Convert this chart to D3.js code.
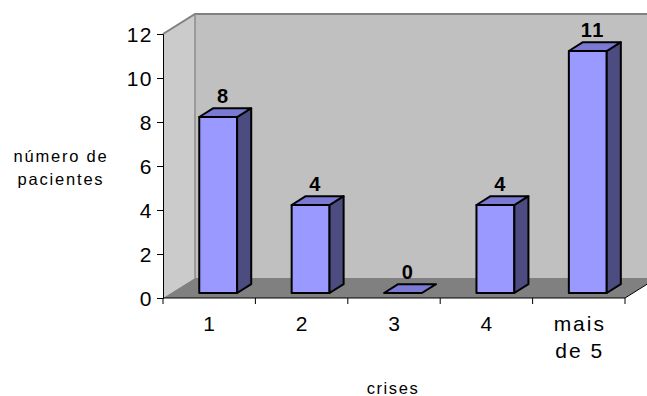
<!DOCTYPE html>
<html>
<head>
<meta charset="utf-8">
<script src="https://cdn.jsdelivr.net/npm/d3@7"></script>
<style>
  html, body { margin: 0; padding: 0; background: #fff; }
  svg { display: block; font-family: "Liberation Sans", Arial, sans-serif; }
</style>
</head>
<body>
<svg id="chart" width="647" height="396"></svg>
<script>
// ---- data ----
const categories = ["1", "2", "3", "4", "mais de 5"];
const categoryLines = [["1"], ["2"], ["3"], ["4"], ["mais", "de 5"]];
const values = [8, 4, 0, 4, 11];
const yTicks = [0, 2, 4, 6, 8, 10, 12];
const yTitleLines = ["número de", "pacientes"];
const xTitle = "crises";

// ---- layout ----
const svg = d3.select("#chart");
const x = d3.scaleBand().domain(categories).range([163, 625]).padding(0);
const y = d3.scaleLinear().domain([0, 12]).range([298, 34]);
const D = { x: 32, y: -20 };          // full floor depth
const f0 = 0.25, f1 = 0.69;           // bar depth placement
const barW = x.bandwidth() * 0.41;
const x0 = x.range()[0], x1 = x.range()[1];
const yTop = y(12), yBot = y(0);

const pts = a => a.map(p => p.join(",")).join(" ");

// side wall
svg.append("polygon")
  .attr("points", pts([[x0, yTop], [x0 + D.x, yTop + D.y], [x0 + D.x, yBot + D.y], [x0, yBot]]))
  .attr("fill", "#cbcbcb");
// back wall
svg.append("polygon")
  .attr("points", pts([[x0 + D.x, yTop + D.y], [x1 + D.x, yTop + D.y], [x1 + D.x, yBot + D.y], [x0 + D.x, yBot + D.y]]))
  .attr("fill", "#c0c0c0");
// floor
svg.append("polygon")
  .attr("points", pts([[x0, yBot], [x0 + D.x, yBot + D.y], [x1 + D.x, yBot + D.y], [x1, yBot]]))
  .attr("fill", "#808080");
// wall edges
svg.append("polyline")
  .attr("points", pts([[x0, yTop], [x0 + D.x, yTop + D.y], [x1 + D.x, yTop + D.y]]))
  .attr("fill", "none").attr("stroke", "#808080").attr("stroke-width", 2);
svg.append("line")
  .attr("x1", x0 + D.x).attr("x2", x0 + D.x)
  .attr("y1", yTop + D.y).attr("y2", yBot + D.y)
  .attr("stroke", "#8c8c8c").attr("stroke-width", 1.5);
// floor right edge
svg.append("line")
  .attr("x1", x1).attr("y1", yBot).attr("x2", x1 + D.x).attr("y2", yBot + D.y)
  .attr("stroke", "#000").attr("stroke-width", 1);

// ---- axes ----
const yAxis = d3.axisLeft(y).tickValues(yTicks).tickSize(6).tickPadding(4);
const gy = svg.append("g").attr("transform", `translate(${x0},0)`).call(yAxis);
gy.select(".domain").attr("stroke", "#000");
gy.selectAll(".tick line").attr("stroke", "#000");
gy.selectAll(".tick text")
  .attr("font-size", 21).attr("fill", "#000")
  .attr("font-family", "Liberation Sans, Arial, sans-serif")
  .attr("letter-spacing", 1.5).attr("dy", "0.36em");

svg.append("line").attr("x1", x0).attr("x2", x1).attr("y1", yBot).attr("y2", yBot)
  .attr("stroke", "#000");
const bounds = categories.map(c => x(c)).concat([x1]);
svg.selectAll(".xtick").data(bounds).join("line")
  .attr("x1", d => d).attr("x2", d => d)
  .attr("y1", yBot).attr("y2", yBot + 6).attr("stroke", "#000");

// category labels
categories.forEach((c, i) => {
  const cx = x(c) + x.bandwidth() / 2 + 1;
  categoryLines[i].forEach((ln, j) => {
    svg.append("text").attr("x", cx).attr("y", 331 + j * 27)
      .attr("text-anchor", "middle").attr("font-size", 21)
      .attr("letter-spacing", 2).text(ln);
  });
});

// ---- bars ----
const dx = (f1 - f0) * D.x, dy = (f1 - f0) * D.y;
const bars = svg.append("g").attr("stroke", "#000").attr("stroke-width", 2).attr("stroke-linejoin", "round");
categories.forEach((c, i) => {
  const v = values[i];
  const xf = x(c) + x.bandwidth() / 2 - barW / 2 + f0 * D.x + 1;
  const yb = y(0) + f0 * D.y;
  const yt = y(v) + f0 * D.y;
  if (v > 0) {
    bars.append("rect").attr("x", xf).attr("y", yt).attr("width", barW).attr("height", yb - yt)
      .attr("fill", "#9999ff");
    bars.append("polygon")
      .attr("points", pts([[xf + barW, yt], [xf + barW + dx, yt + dy], [xf + barW + dx, yb + dy], [xf + barW, yb]]))
      .attr("fill", "#4c4c80");
  }
  bars.append("polygon")
    .attr("points", pts([[xf, yt], [xf + dx, yt + dy], [xf + barW + dx, yt + dy], [xf + barW, yt]]))
    .attr("fill", "#7a7ad4");
  svg.append("text")
    .attr("x", xf + barW / 2 + dx / 2 - 2).attr("y", yt + dy - 5)
    .attr("text-anchor", "middle").attr("font-size", 20).attr("font-weight", "bold")
    .attr("letter-spacing", 1.5).text(v);
});

// ---- titles ----
yTitleLines.forEach((ln, j) => {
  svg.append("text").attr("x", 61).attr("y", 162 + j * 23)
    .attr("text-anchor", "middle").attr("font-size", 16.5)
    .attr("letter-spacing", 1.8).text(ln);
});
svg.append("text").attr("x", 393).attr("y", 394)
  .attr("text-anchor", "middle").attr("font-size", 16.5)
  .attr("letter-spacing", 1.6).text(xTitle);
</script>
</body>
</html>
